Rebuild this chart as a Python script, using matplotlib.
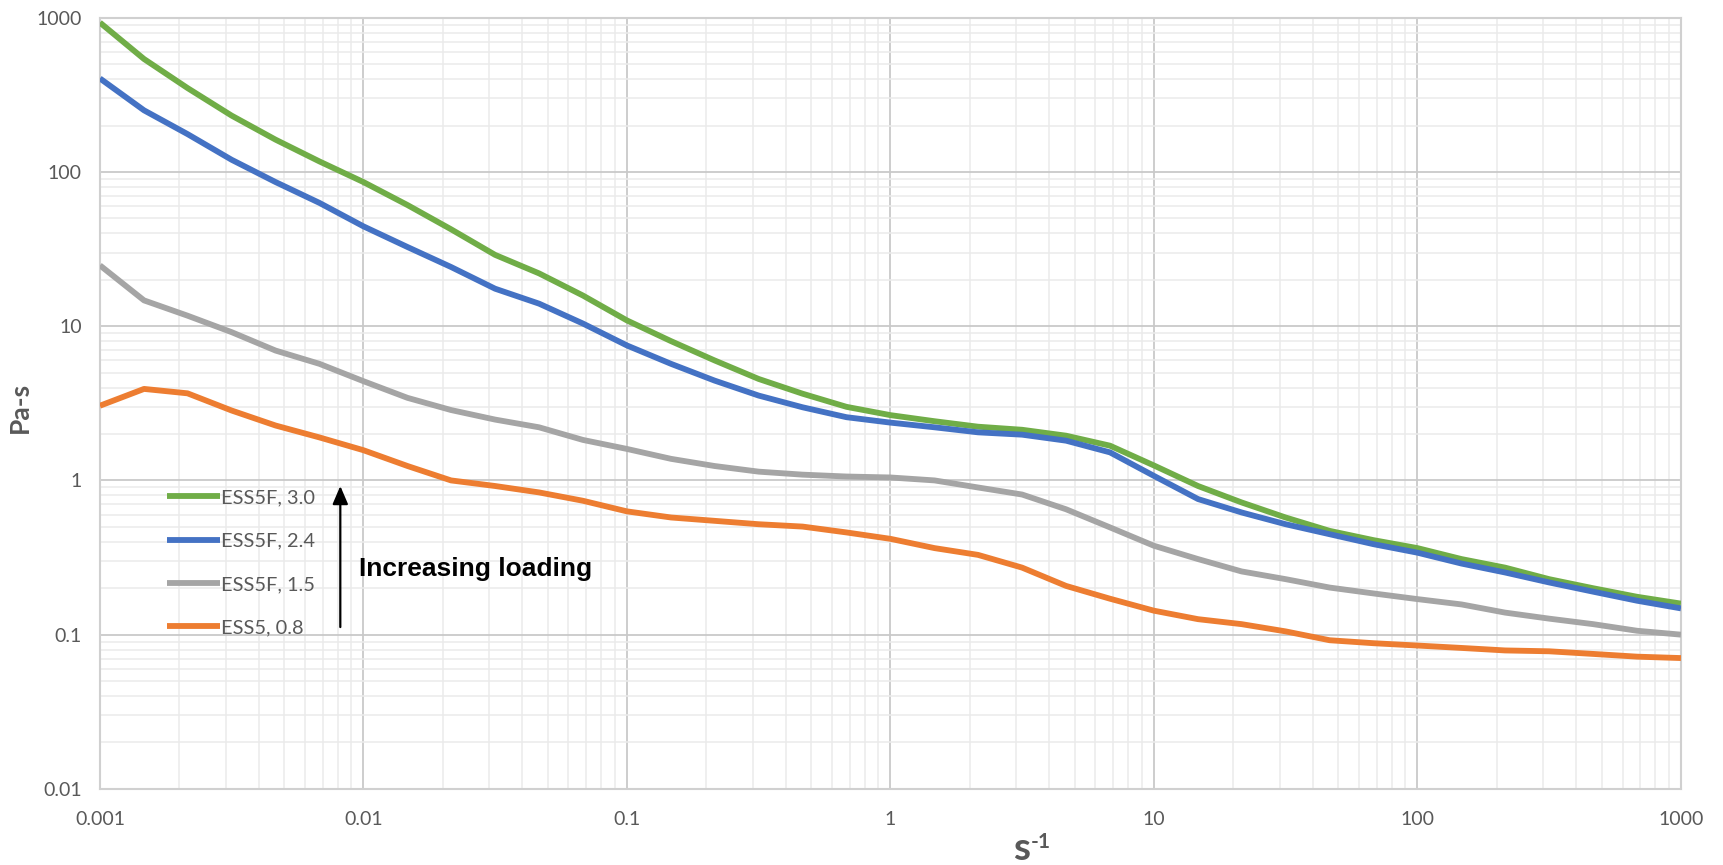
"""
Viscosity vs shear rate for the ESS5 / ESS5F loadings (log-log).
"""

import matplotlib
matplotlib.use('Agg')
import matplotlib.pyplot as plt
from matplotlib.ticker import LogLocator, NullFormatter

# shear rate, 1/s (6 points per decade)
SHEAR_RATE = [0.001, 0.00147, 0.00215, 0.00316, 0.00464, 0.00681,
              0.01, 0.0147, 0.0215, 0.0316, 0.0464, 0.0681,
              0.1, 0.147, 0.215, 0.316, 0.464, 0.681,
              1.0, 1.47, 2.15, 3.16, 4.64, 6.81,
              10.0, 14.7, 21.5, 31.6, 46.4, 68.1,
              100.0, 147.0, 215.0, 316.0, 464.0, 681.0, 1000.0]

# viscosity, Pa-s
ESS5F_30 = [930, 540, 350, 232, 162, 117, 86, 61, 42.5, 29, 22, 15.8,
            10.9, 8.0, 6.0, 4.55, 3.65, 3.0, 2.65, 2.42, 2.23, 2.13, 1.95, 1.68,
            1.25, 0.92, 0.72, 0.575, 0.471, 0.41, 0.364, 0.309, 0.272, 0.229,
            0.2, 0.176, 0.159]
ESS5F_24 = [404, 251, 176, 120, 86, 63, 44.4, 32.6, 24.2, 17.5, 14.0, 10.4,
            7.5, 5.7, 4.44, 3.55, 2.98, 2.57, 2.37, 2.21, 2.05, 1.98, 1.81, 1.52,
            1.07, 0.757, 0.62, 0.52, 0.448, 0.386, 0.34, 0.289, 0.253, 0.218,
            0.19, 0.166, 0.148]
ESS5F_15 = [24.8, 14.7, 11.7, 9.15, 6.95, 5.7, 4.4, 3.43, 2.86, 2.48, 2.21, 1.83,
            1.6, 1.38, 1.24, 1.14, 1.09, 1.06, 1.045, 1.0, 0.90, 0.81, 0.65, 0.496,
            0.377, 0.309, 0.257, 0.229, 0.202, 0.185, 0.17, 0.157, 0.139, 0.127,
            0.117, 0.106, 0.1]
ESS5_08 = [3.05, 3.92, 3.67, 2.84, 2.27, 1.9, 1.57, 1.24, 1.0, 0.92, 0.836, 0.738,
           0.63, 0.575, 0.547, 0.52, 0.502, 0.46, 0.418, 0.364, 0.329, 0.272, 0.207,
           0.171, 0.143, 0.126, 0.117, 0.105, 0.092, 0.088, 0.085, 0.082, 0.079,
           0.078, 0.075, 0.072, 0.0705]

SERIES = [('ESS5F, 3.0', ESS5F_30, '#70AD47'),
          ('ESS5F, 2.4', ESS5F_24, '#4472C4'),
          ('ESS5F, 1.5', ESS5F_15, '#A5A5A5'),
          ('ESS5, 0.8',  ESS5_08,  '#ED7D31')]

X_TICKS = [0.001, 0.01, 0.1, 1, 10, 100, 1000]
X_TICKLABELS = ['0.001', '0.01', '0.1', '1', '10', '100', '1000']
Y_TICKS = [0.01, 0.1, 1, 10, 100, 1000]
Y_TICKLABELS = ['0.01', '0.1', '1', '10', '100', '1000']

TEXT_GREY = '#595959'


def main():
    fig = plt.figure(figsize=(17.23, 8.65), dpi=100)
    ax = fig.add_axes([0.058, 0.088, 0.9176, 0.8915])

    for label, vals, col in SERIES:
        ax.plot(SHEAR_RATE, vals, color=col, lw=4.2, label=label,
                solid_capstyle='butt', zorder=3)

    ax.set_xscale('log')
    ax.set_yscale('log')
    ax.set_xlim(0.001, 1000)
    ax.set_ylim(0.01, 1000)

    # ── grid / ticks ──────────────────────────────────────────
    tick_font = {'family': 'Lato', 'size': 14, 'color': TEXT_GREY}
    ax.set_xticks(X_TICKS, X_TICKLABELS, **tick_font)
    ax.set_yticks(Y_TICKS, Y_TICKLABELS, **tick_font)
    for axis in (ax.xaxis, ax.yaxis):
        axis.set_minor_locator(LogLocator(base=10, subs=range(2, 10), numticks=20))
        axis.set_minor_formatter(NullFormatter())
    ax.grid(which='major', color='#c9c9c9', lw=1.3, zorder=0)
    ax.grid(which='minor', color='#ebebeb', lw=1.1, zorder=0)
    ax.set_axisbelow(True)
    ax.tick_params(which='both', length=0)
    ax.tick_params(axis='x', pad=16)
    ax.tick_params(axis='y', pad=13)
    for s in ax.spines.values():
        s.set_color('#d0d0d0')
        s.set_linewidth(1.5)

    ax.set_ylabel('Pa-s', fontsize=19, fontweight='bold', color=TEXT_GREY,
                  family='Lato')
    ax.yaxis.set_label_coords(-0.043, 0.495)

    # x label: big "s" with a smaller "-1" superscript
    fig.text(0.593, 0.006, 's', fontsize=28, fontweight='bold', family='Lato',
             color=TEXT_GREY, ha='center', va='baseline')
    fig.text(0.5985, 0.0195, '-1', fontsize=15, fontweight='bold', family='Lato',
             color=TEXT_GREY, ha='left', va='baseline')

    # ── legend ────────────────────────────────────────────────
    leg = ax.legend(loc='upper left', bbox_to_anchor=(0.031, 0.412),
                    frameon=False, handlelength=2.65, handletextpad=0.05,
                    labelspacing=1.32, prop={'family': 'Lato', 'size': 14.4})
    for t in leg.get_texts():
        t.set_color(TEXT_GREY)

    # ── annotation ────────────────────────────────────────────
    ax.annotate('', xy=(0.00817, 0.92), xytext=(0.00817, 0.112),
                arrowprops=dict(arrowstyle='-|>,head_length=1.1,head_width=0.47',
                                color='black', lw=1.6, shrinkA=0, shrinkB=0),
                zorder=4)
    ax.text(0.0096, 0.266, 'Increasing loading', fontsize=19, fontweight='bold',
            family='Liberation Sans', color='black', va='center', ha='left')

    fig.savefig('out.png', dpi=100)


if __name__ == '__main__':
    main()
